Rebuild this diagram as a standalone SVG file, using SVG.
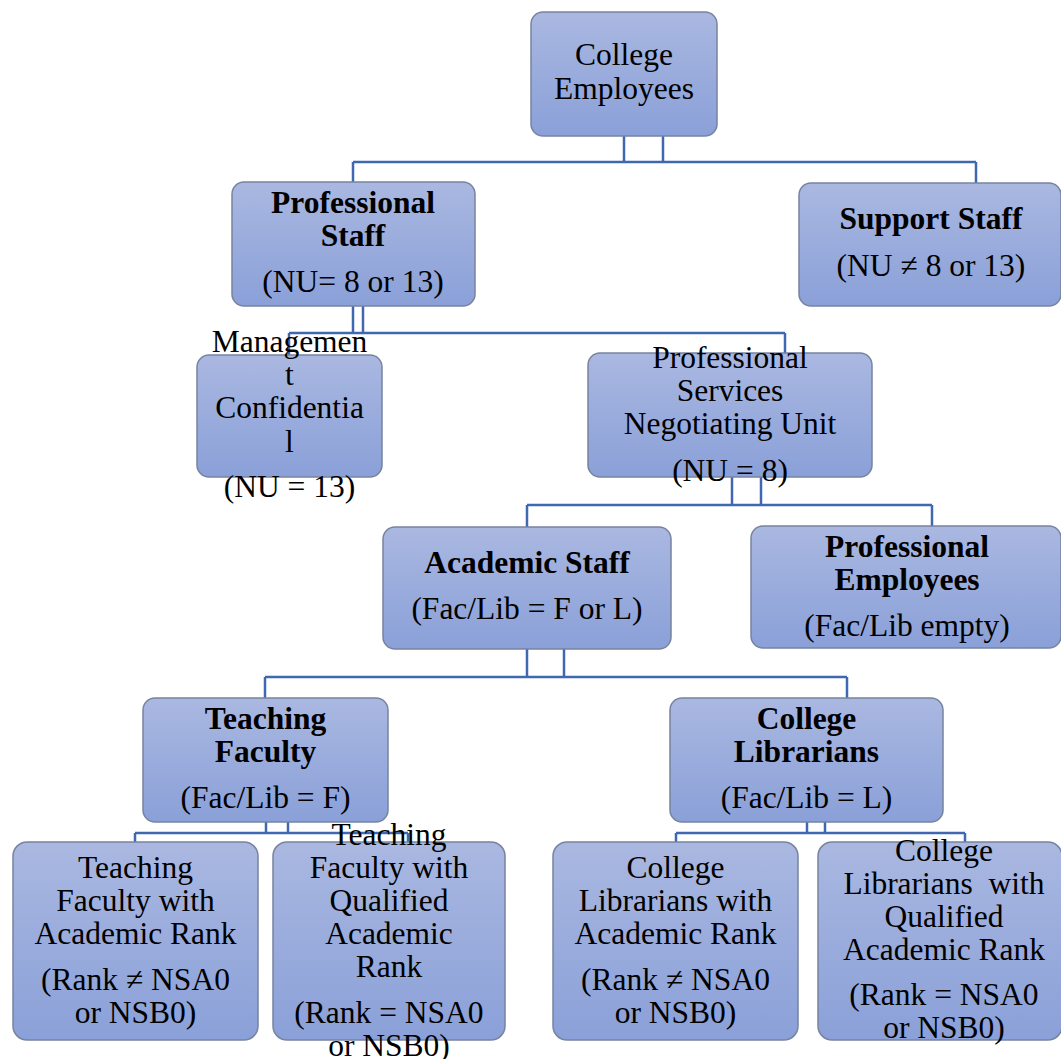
<svg xmlns="http://www.w3.org/2000/svg" width="1061" height="1059" viewBox="0 0 1061 1059">
<defs>
<linearGradient id="g" x1="0" y1="0" x2="0" y2="1">
<stop offset="0" stop-color="#aab8e1"/>
<stop offset="1" stop-color="#8aa0d8"/>
</linearGradient>
<style>
.box{fill:url(#g);stroke:#77839f;stroke-width:1.5}
.t{font-family:"Liberation Serif","Times New Roman",serif;font-size:31.5px;fill:#000;text-anchor:middle}
.b{font-weight:bold}
.c{fill:none;stroke:#3f68b0;stroke-width:2.5}
</style>
</defs>
<rect width="1061" height="1059" fill="#fff"/>
<g id="connectors" class="c">
<path d="M624 136V162M663 136V162M353 162H976M353 162V182M976 162V183"/>
<path d="M353 306V333M363 306V333M289 333H785M289 333V355M785 333V353"/>
<path d="M732 477V505M761 477V505M527 505H932M527 505V527M932 505V526"/>
<path d="M527 649V677M564 649V677M265 677H847M265 677V698M847 677V698"/>
<path d="M266 822V833M288 822V833M135 833H408M135 833V842M408 833V842"/>
<path d="M807 822V833M825 822V833M676 833H965M676 833V842M965 833V842"/>
</g>
<g id="n1"><rect class="box" x="531" y="12" width="186" height="124" rx="12"/>
<text class="t" x="624" y="65">College</text><text class="t" x="624" y="99">Employees</text></g>
<g id="n2"><rect class="box" x="232" y="182" width="243" height="124" rx="12"/>
<text class="t b" x="353" y="213">Professional</text><text class="t b" x="353" y="246">Staff</text><text class="t" x="353" y="292">(NU= 8 or 13)</text></g>
<g id="n3"><rect class="box" x="799" y="183" width="262" height="123" rx="12"/>
<text class="t b" x="931" y="229">Support Staff</text><text class="t" x="931" y="276">(NU ≠ 8 or 13)</text></g>
<g id="n4"><rect class="box" x="197" y="355" width="185" height="122" rx="12"/>
<text class="t" x="289.5" y="352">Managemen</text><text class="t" x="289.5" y="385">t</text><text class="t" x="289.5" y="418">Confidentia</text><text class="t" x="289.5" y="452">l</text><text class="t" x="289.5" y="497">(NU = 13)</text></g>
<g id="n5"><rect class="box" x="588" y="353" width="284" height="124" rx="12"/>
<text class="t" x="730" y="368">Professional</text><text class="t" x="730" y="401">Services</text><text class="t" x="730" y="434">Negotiating Unit</text><text class="t" x="730" y="481">(NU = 8)</text></g>
<g id="n6"><rect class="box" x="383" y="527" width="288" height="122" rx="12"/>
<text class="t b" x="527" y="573">Academic Staff</text><text class="t" x="527" y="619">(Fac/Lib = F or L)</text></g>
<g id="n7"><rect class="box" x="751" y="526" width="310" height="122" rx="12"/>
<text class="t b" x="907" y="557">Professional</text><text class="t b" x="907" y="590">Employees</text><text class="t" x="907" y="636">(Fac/Lib empty)</text></g>
<g id="n8"><rect class="box" x="143" y="698" width="245" height="124" rx="12"/>
<text class="t b" x="265.5" y="729">Teaching</text><text class="t b" x="265.5" y="762">Faculty</text><text class="t" x="265.5" y="808">(Fac/Lib = F)</text></g>
<g id="n9"><rect class="box" x="670" y="698" width="273" height="124" rx="12"/>
<text class="t b" x="806.5" y="729">College</text><text class="t b" x="806.5" y="762">Librarians</text><text class="t" x="806.5" y="808">(Fac/Lib = L)</text></g>
<g id="n10"><rect class="box" x="13" y="842" width="245" height="198" rx="14"/>
<text class="t" x="135.5" y="878">Teaching</text><text class="t" x="135.5" y="911">Faculty with</text><text class="t" x="135.5" y="944">Academic Rank</text><text class="t" x="135.5" y="990">(Rank ≠ NSA0</text><text class="t" x="135.5" y="1023">or NSB0)</text></g>
<g id="n11"><rect class="box" x="273" y="842" width="232" height="198" rx="14"/>
<text class="t" x="389" y="845">Teaching</text><text class="t" x="389" y="878">Faculty with</text><text class="t" x="389" y="911">Qualified</text><text class="t" x="389" y="944">Academic</text><text class="t" x="389" y="977">Rank</text><text class="t" x="389" y="1023">(Rank = NSA0</text><text class="t" x="389" y="1056">or NSB0)</text></g>
<g id="n12"><rect class="box" x="553" y="842" width="245" height="198" rx="14"/>
<text class="t" x="675.5" y="878">College</text><text class="t" x="675.5" y="911">Librarians with</text><text class="t" x="675.5" y="944">Academic Rank</text><text class="t" x="675.5" y="990">(Rank ≠ NSA0</text><text class="t" x="675.5" y="1023">or NSB0)</text></g>
<g id="n13"><rect class="box" x="818" y="842" width="244" height="198" rx="14"/>
<text class="t" x="944" y="861">College</text><text class="t" x="944" y="894" xml:space="preserve">Librarians  with</text><text class="t" x="944" y="927">Qualified</text><text class="t" x="944" y="960">Academic Rank</text><text class="t" x="944" y="1005">(Rank = NSA0</text><text class="t" x="944" y="1038">or NSB0)</text></g>
</svg>
